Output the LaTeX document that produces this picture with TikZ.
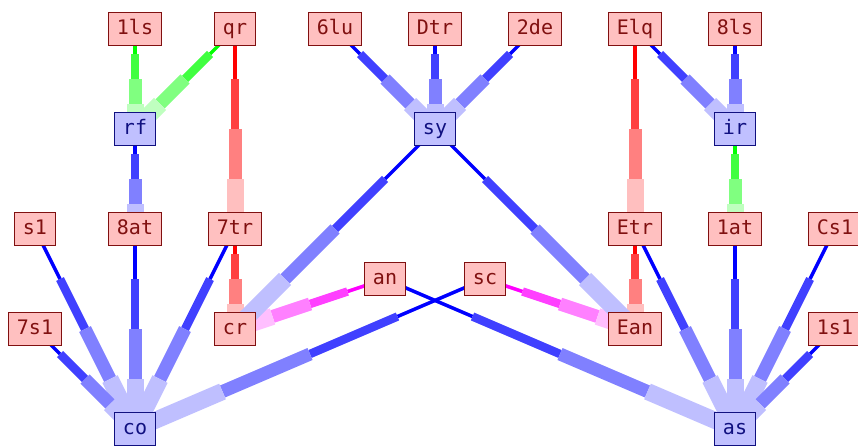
\documentclass[tikz,border=0pt]{standalone}
\usepackage{fontspec}
\setmonofont{DejaVu Sans Mono}
\usetikzlibrary{calc,backgrounds}
\definecolor{redfill}{RGB}{255,192,192}
\definecolor{redline}{RGB}{128,16,16}
\definecolor{bluefill}{RGB}{192,192,255}
\definecolor{blueline}{RGB}{16,16,128}
\definecolor{edgered}{RGB}{255,0,0}
\definecolor{edgegreen}{RGB}{0,255,0}
\definecolor{edgeblue}{RGB}{0,0,255}
\definecolor{edgepink}{RGB}{255,0,255}
\tikzset{
  box/.style={draw, line width=1.3pt, inner xsep=8.5pt, inner ysep=0pt,
    minimum height=33pt, text height=15pt, text depth=4pt,
    font=\ttfamily\fontsize{20}{24}\selectfont},
  rednode/.style={box, fill=redfill, draw=redline, text=redline},
  bluenode/.style={box, fill=bluefill, draw=blueline, text=blueline}
}
% edge in four pieces, thin and strong at the source, wide and pale at the target
\newcommand\taper[3]{%
  \foreach \s/\e/\w/\p in {0/0.25/3.5/100,0.25/0.5/8.5/75,0.5/0.75/13/50,0.75/1/17/25}
    \draw[line width=\w pt, #3!\p!white] ($(#1)!\s!(#2)$) -- ($(#1)!\e!(#2)$);}
\begin{document}
\begin{tikzpicture}[x=100pt, y=-50pt, shift={(35pt,-29pt)}]
  \useasboundingbox (-35pt,29pt) rectangle (823pt,-418pt);
  % top row
  \node[rednode] (n1ls) at (1,0) {1ls};
  \node[rednode] (nqr) at (2,0) {qr};
  \node[rednode] (n6lu) at (3,0) {6lu};
  \node[rednode] (nDtr) at (4,0) {Dtr};
  \node[rednode] (n2de) at (5,0) {2de};
  \node[rednode] (nElq) at (6,0) {Elq};
  \node[rednode] (n8ls) at (7,0) {8ls};
  \node[bluenode] (nrf) at (1,2) {rf};
  \node[bluenode] (nsy) at (4,2) {sy};
  \node[bluenode] (nir) at (7,2) {ir};
  % middle
  \node[rednode] (ns1) at (0,4) {s1};
  \node[rednode] (n8at) at (1,4) {8at};
  \node[rednode] (n7tr) at (2,4) {7tr};
  \node[rednode] (nEtr) at (6,4) {Etr};
  \node[rednode] (n1at) at (7,4) {1at};
  \node[rednode] (nCs1) at (8,4) {Cs1};
  \node[rednode] (nan) at (3.5,5) {an};
  \node[rednode] (nsc) at (4.5,5) {sc};
  \node[rednode] (n7s1) at (0,6) {7s1};
  \node[rednode] (ncr) at (2,6) {cr};
  \node[rednode] (nEan) at (6,6) {Ean};
  \node[rednode] (n1s1) at (8,6) {1s1};
  % bottom
  \node[bluenode] (nco) at (1,8) {co};
  \node[bluenode] (nas) at (7,8) {as};
  \begin{scope}[on background layer]
    \foreach \a/\b in {n1ls/nrf, nqr/nrf, nir/n1at}
      \taper{\a}{\b}{edgegreen};
    \foreach \a/\b in {nqr/n7tr, nElq/nEtr, n7tr/ncr, nEtr/nEan}
      \taper{\a}{\b}{edgered};
    \foreach \a/\b in {nan/ncr, nsc/nEan}
      \taper{\a}{\b}{edgepink};
    \foreach \a/\b in {n6lu/nsy, nDtr/nsy, n2de/nsy, nElq/nir, n8ls/nir,
        nrf/n8at, nsy/ncr, nsy/nEan, ns1/nco, n8at/nco, n7tr/nco, n7s1/nco,
        nsc/nco, nan/nas, nEtr/nas, n1at/nas, nCs1/nas, n1s1/nas}
      \taper{\a}{\b}{edgeblue};
  \end{scope}
\end{tikzpicture}
\end{document}
